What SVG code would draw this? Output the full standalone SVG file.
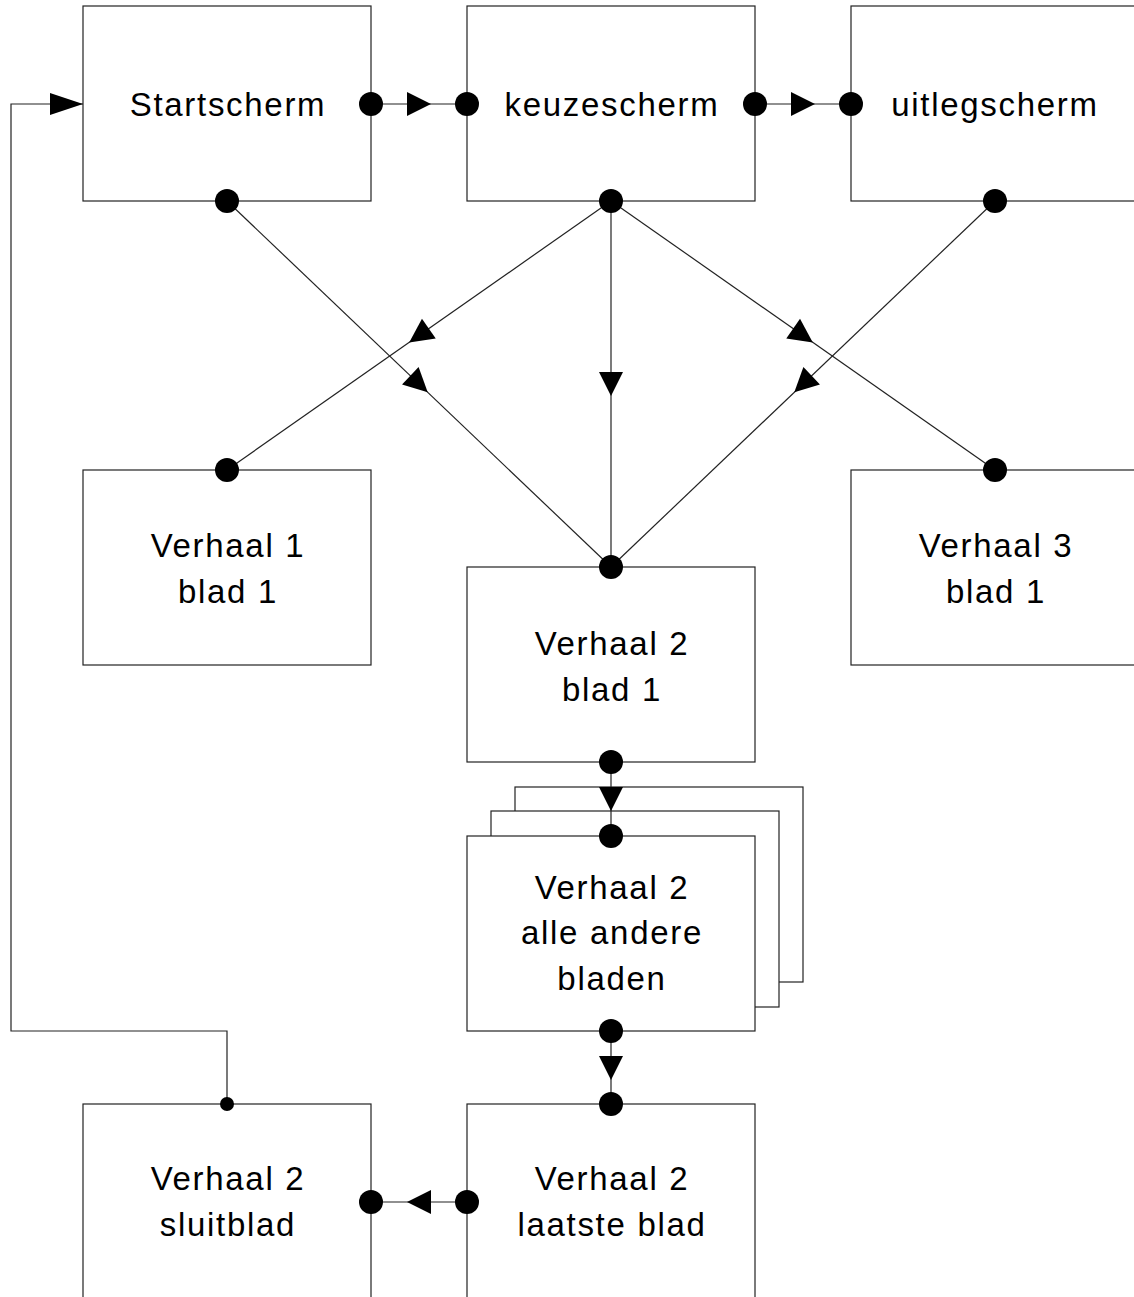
<svg xmlns="http://www.w3.org/2000/svg" xmlns:xlink="http://www.w3.org/1999/xlink" width="1134" height="1297" viewBox="0 0 1134 1297">
<style>
.box{fill:#fff;stroke:#222;stroke-width:1.2}
.lbl{font-family:"Liberation Sans",Arial,sans-serif;font-size:33px;letter-spacing:1.7px;fill:#000;text-anchor:middle}
.ln{fill:none;stroke:#222;stroke-width:1.2}
.dot{fill:#000}
.ah{fill:#000}
</style>
<defs>
<path id="ah" d="M0,0 L-24,-12 L-24,12 Z"/>
</defs>
<rect width="1134" height="1297" fill="#fff"/>
<g id="startscherm"><rect class="box" x="83" y="6" width="288" height="195"/><text class="lbl" x="228" y="116">Startscherm</text></g>
<g id="keuzescherm"><rect class="box" x="467" y="6" width="288" height="195"/><text class="lbl" x="612" y="116">keuzescherm</text></g>
<g id="uitlegscherm"><rect class="box" x="851" y="6" width="288" height="195"/><text class="lbl" x="995" y="116">uitlegscherm</text></g>
<g id="verhaal1"><rect class="box" x="83" y="470" width="288" height="195"/><text class="lbl" x="228" y="557">Verhaal 1</text><text class="lbl" x="228" y="603">blad 1</text></g>
<g id="verhaal3"><rect class="box" x="851" y="470" width="288" height="195"/><text class="lbl" x="996" y="557">Verhaal 3</text><text class="lbl" x="996" y="603">blad 1</text></g>
<g id="verhaal2blad1"><rect class="box" x="467" y="567" width="288" height="195"/><text class="lbl" x="612" y="655">Verhaal 2</text><text class="lbl" x="612" y="701">blad 1</text></g>
<g id="verhaal2andere"><rect class="box" x="515" y="787" width="288" height="195"/><rect class="box" x="491" y="811" width="288" height="196"/><rect class="box" x="467" y="836" width="288" height="195"/><text class="lbl" x="612" y="899">Verhaal 2</text><text class="lbl" x="612" y="944">alle andere</text><text class="lbl" x="612" y="990">bladen</text></g>
<g id="verhaal2laatste"><rect class="box" x="467" y="1104" width="288" height="200"/><text class="lbl" x="612" y="1190">Verhaal 2</text><text class="lbl" x="612" y="1236">laatste blad</text></g>
<g id="verhaal2sluit"><rect class="box" x="83" y="1104" width="288" height="200"/><text class="lbl" x="228" y="1190">Verhaal 2</text><text class="lbl" x="228" y="1236">sluitblad</text></g>
<g id="connectors">
<line class="ln" x1="371" y1="104" x2="467" y2="104"/>
<use xlink:href="#ah" href="#ah" class="ah" transform="translate(431,104)"/>
<line class="ln" x1="755" y1="104" x2="851" y2="104"/>
<use xlink:href="#ah" href="#ah" class="ah" transform="translate(815,104)"/>
<line class="ln" x1="611" y1="201" x2="611" y2="567"/>
<use xlink:href="#ah" href="#ah" class="ah" transform="translate(611,396) rotate(90)"/>
<line class="ln" x1="611" y1="201" x2="227" y2="470"/>
<use xlink:href="#ah" href="#ah" class="ah" transform="translate(409.2,342.4) rotate(144.99)"/>
<line class="ln" x1="611" y1="201" x2="995" y2="470"/>
<use xlink:href="#ah" href="#ah" class="ah" transform="translate(812.8,342.4) rotate(35.01)"/>
<line class="ln" x1="227" y1="201" x2="611" y2="567"/>
<use xlink:href="#ah" href="#ah" class="ah" transform="translate(427.7,392.3) rotate(43.62)"/>
<line class="ln" x1="995" y1="201" x2="611" y2="567"/>
<use xlink:href="#ah" href="#ah" class="ah" transform="translate(794.3,392.3) rotate(136.38)"/>
<line class="ln" x1="611" y1="762" x2="611" y2="836"/>
<use xlink:href="#ah" href="#ah" class="ah" transform="translate(611,811) rotate(90)"/>
<line class="ln" x1="611" y1="1031" x2="611" y2="1104"/>
<use xlink:href="#ah" href="#ah" class="ah" transform="translate(611,1080) rotate(90)"/>
<line class="ln" x1="467" y1="1202" x2="371" y2="1202"/>
<use xlink:href="#ah" href="#ah" class="ah" transform="translate(407,1202) rotate(180)"/>
<polyline class="ln" points="227,1104 227,1031 11,1031 11,104 83,104"/>
<polygon class="ah" points="83,104 50,93 50,115"/>
<circle class="dot" cx="371" cy="104" r="12"/>
<circle class="dot" cx="467" cy="104" r="12"/>
<circle class="dot" cx="755" cy="104" r="12"/>
<circle class="dot" cx="851" cy="104" r="12"/>
<circle class="dot" cx="227" cy="201" r="12"/>
<circle class="dot" cx="611" cy="201" r="12"/>
<circle class="dot" cx="995" cy="201" r="12"/>
<circle class="dot" cx="227" cy="470" r="12"/>
<circle class="dot" cx="995" cy="470" r="12"/>
<circle class="dot" cx="611" cy="567" r="12"/>
<circle class="dot" cx="611" cy="762" r="12"/>
<circle class="dot" cx="611" cy="836" r="12"/>
<circle class="dot" cx="611" cy="1031" r="12"/>
<circle class="dot" cx="611" cy="1104" r="12"/>
<circle class="dot" cx="467" cy="1202" r="12"/>
<circle class="dot" cx="371" cy="1202" r="12"/>
<circle class="dot" cx="227" cy="1104" r="7"/>
</g>
</svg>
